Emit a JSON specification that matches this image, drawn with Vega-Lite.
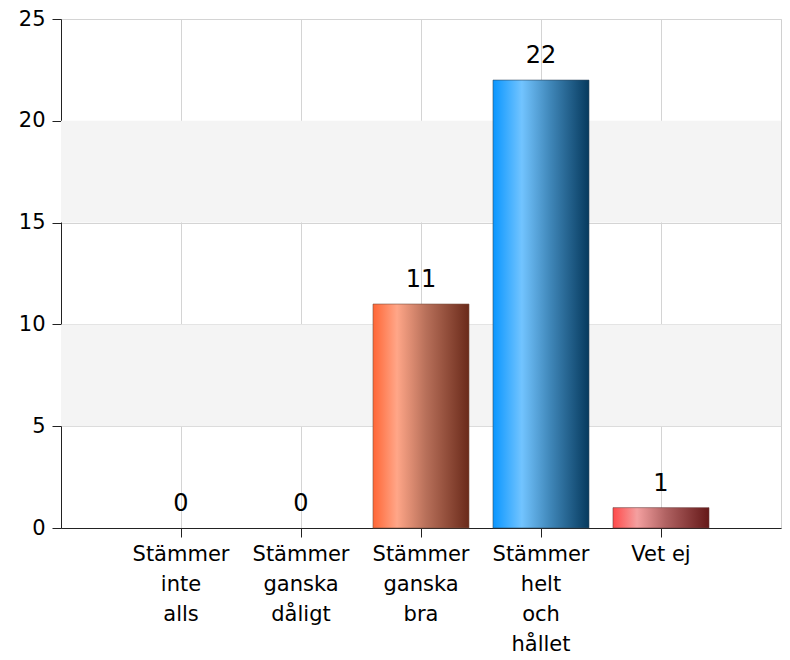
{
  "$schema": "https://vega.github.io/schema/vega-lite/v6.json",
  "width": 720,
  "height": 509,
  "autosize": {"type": "none"},
  "padding": {"left": 61, "top": 19, "right": 9, "bottom": 132},
  "background": "white",
  "config": {
    "font": "DejaVu Sans",
    "view": {"stroke": "#d0d0d0", "strokeWidth": 1}
  },
  "datasets": {
    "answers": [
      {"kategori": "Stämmer inte alls", "antal": 0},
      {"kategori": "Stämmer ganska dåligt", "antal": 0},
      {"kategori": "Stämmer ganska bra", "antal": 11},
      {"kategori": "Stämmer helt och hållet", "antal": 22},
      {"kategori": "Vet ej", "antal": 1}
    ],
    "bands": [
      {"from": 5, "to": 10},
      {"from": 15, "to": 20}
    ]
  },
  "layer": [
    {
      "data": {"name": "bands"},
      "mark": {"type": "rect", "color": "#f4f4f4"},
      "encoding": {
        "y": {"field": "from", "type": "quantitative"},
        "y2": {"field": "to"}
      }
    },
    {
      "data": {"name": "answers"},
      "encoding": {
        "x": {
          "field": "kategori",
          "type": "nominal",
          "sort": ["Stämmer inte alls", "Stämmer ganska dåligt", "Stämmer ganska bra", "Stämmer helt och hållet", "Vet ej"],
          "scale": {"paddingInner": 0.2, "paddingOuter": 0.6},
          "axis": {
            "title": null,
            "labelAngle": 0,
            "labelFontSize": 21,
            "labelColor": "#000",
            "labelLineHeight": 30,
            "labelBaseline": "top",
            "labelPadding": 6,
            "labelExpr": "datum.value === 'Vet ej' ? datum.value : split(datum.value, ' ')",
            "bandPosition": 0.5,
            "grid": true,
            "ticks": true,
            "gridColor": "#d4d4d4",
            "domainColor": "#222",
            "tickColor": "#222",
            "tickSize": 9,
            "labelLimit": 0
          }
        },
        "y": {
          "field": "antal",
          "type": "quantitative",
          "scale": {"domain": [0, 25], "nice": false},
          "axis": {
            "title": null,
            "values": [0, 5, 10, 15, 20, 25],
            "labelFontSize": 21,
            "labelColor": "#000",
            "labelPadding": 7,
            "tickSize": 9,
            "gridColor": "#d4d4d4",
            "domainColor": "#222",
            "tickColor": "#222"
          }
        }
      },
      "layer": [
        {
          "transform": [{"filter": "datum.kategori === 'Stämmer ganska bra'"}],
          "mark": {
            "type": "bar",
            "stroke": "#7a5040",
            "strokeWidth": 0.6,
            "color": {
              "x1": 0, "y1": 0, "x2": 1, "y2": 0,
              "gradient": "linear",
              "stops": [
                {"offset": 0, "color": "#ff6635"},
                {"offset": 0.25, "color": "#ffa688"},
                {"offset": 0.55, "color": "#b8705a"},
                {"offset": 1, "color": "#6a2a1a"}
              ]
            }
          }
        },
        {
          "transform": [{"filter": "datum.kategori === 'Stämmer helt och hållet'"}],
          "mark": {
            "type": "bar",
            "stroke": "#304a60",
            "strokeWidth": 0.6,
            "color": {
              "x1": 0, "y1": 0, "x2": 1, "y2": 0,
              "gradient": "linear",
              "stops": [
                {"offset": 0, "color": "#0a96ff"},
                {"offset": 0.3, "color": "#72c4ff"},
                {"offset": 0.6, "color": "#3f86b8"},
                {"offset": 1, "color": "#063a5e"}
              ]
            }
          }
        },
        {
          "transform": [{"filter": "datum.kategori === 'Vet ej'"}],
          "mark": {
            "type": "bar",
            "stroke": "#6a3a3a",
            "strokeWidth": 0.6,
            "color": {
              "x1": 0, "y1": 0, "x2": 1, "y2": 0,
              "gradient": "linear",
              "stops": [
                {"offset": 0, "color": "#ff4a4a"},
                {"offset": 0.25, "color": "#f4a0a0"},
                {"offset": 0.55, "color": "#b06262"},
                {"offset": 1, "color": "#651818"}
              ]
            }
          }
        },
        {
          "mark": {"type": "text", "fontSize": 24, "color": "#000", "dy": -17, "baseline": "alphabetic"},
          "encoding": {
            "text": {"field": "antal", "type": "quantitative"}
          }
        }
      ]
    }
  ]
}
